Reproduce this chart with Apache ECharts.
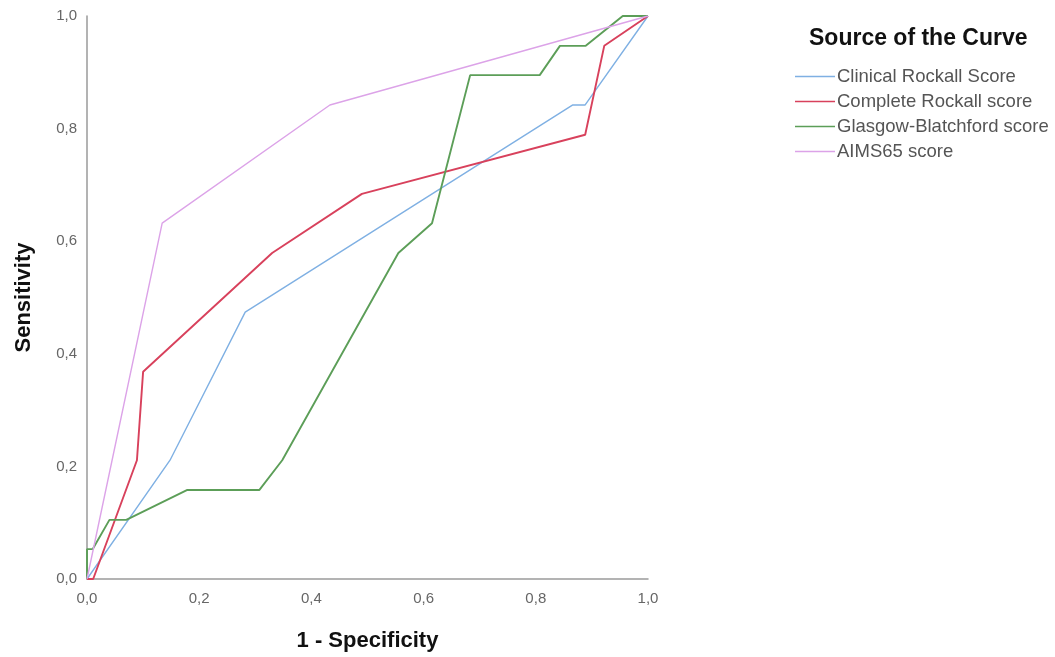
<!DOCTYPE html>
<html>
<head>
<meta charset="utf-8">
<script src="https://cdn.jsdelivr.net/npm/echarts@6/dist/echarts.min.js"></script>
<style>
  html, body { margin: 0; padding: 0; background: #fff; }
  #roc { width: 1055px; height: 657px; }
</style>
</head>
<body>
<div id="roc"></div>
<script>
// ROC curves, values (x = 1 - specificity, y = sensitivity)
var seriesNames = ['Clinical Rockall Score', 'Complete Rockall score', 'Glasgow-Blatchford score', 'AIMS65 score'];
var axisTicks = [0, 0.2, 0.4, 0.6, 0.8, 1.0];

var clinicalX = [0, 0.148, 0.282, 0.866, 0.888, 1];
var clinicalY = [0, 0.211, 0.474, 0.842, 0.842, 1];

var completeX = [0, 0.011, 0.089, 0.100, 0.330, 0.490, 0.888, 0.922, 1];
var completeY = [0, 0, 0.211, 0.368, 0.579, 0.684, 0.789, 0.947, 1];

var glasgowX = [0, 0, 0.010, 0.040, 0.070, 0.178, 0.307, 0.348, 0.555, 0.615, 0.683, 0.807, 0.843, 0.889, 0.955, 1];
var glasgowY = [0, 0.053, 0.053, 0.105, 0.105, 0.158, 0.158, 0.211, 0.579, 0.632, 0.895, 0.895, 0.947, 0.947, 1, 1];

var aimsX = [0, 0.134, 0.433, 1];
var aimsY = [0, 0.632, 0.842, 1];

var colors = ['#7fb0e3', '#d8415c', '#5c9e58', '#dca3e8'];

function zip(xs, ys) {
    return xs.map(function (x, i) { return [x, ys[i]]; });
}
function comma(v) {
    return v.toFixed(1).replace('.', ',');
}

var dom = document.getElementById('roc');
var myChart = echarts.init(dom);
var curves = [zip(clinicalX, clinicalY), zip(completeX, completeY), zip(glasgowX, glasgowY), zip(aimsX, aimsY)];

var option = {
    animation: false,
    color: colors,
    textStyle: { fontFamily: 'Liberation Sans, Arial, sans-serif' },
    grid: { left: 87, right: 407, top: 16, bottom: 78 },
    graphic: [{
        type: 'text',
        left: 809,
        top: 27,
        style: {
            text: 'Source of the Curve',
            font: 'bold 23px "Liberation Sans", Arial, sans-serif',
            fill: '#111'
        }
    }],
    legend: {
        orient: 'vertical',
        left: 790,
        top: 62,
        icon: 'rect',
        itemWidth: 40,
        itemHeight: 1.5,
        itemGap: 6,
        data: seriesNames,
        textStyle: { fontSize: 18.5, lineHeight: 19, color: '#555', padding: [0, 0, 0, -3] }
    },
    xAxis: {
        type: 'value',
        min: 0,
        max: 1,
        interval: 0.2,
        name: '1 - Specificity',
        nameLocation: 'middle',
        nameGap: 51,
        nameTextStyle: { fontSize: 22, fontWeight: 'bold', color: '#111' },
        axisLine: { lineStyle: { color: '#9a9a9a', width: 1.5 } },
        axisTick: { show: false },
        splitLine: { show: false },
        axisLabel: {
            color: '#666',
            fontSize: 15,
            margin: 12,
            formatter: function (v) { return comma(v); }
        }
    },
    yAxis: {
        type: 'value',
        min: 0,
        max: 1,
        interval: 0.2,
        name: 'Sensitivity',
        nameLocation: 'middle',
        nameGap: 52,
        nameRotate: 90,
        nameTextStyle: { fontSize: 22, fontWeight: 'bold', color: '#111' },
        axisLine: { show: true, lineStyle: { color: '#9a9a9a', width: 1.5 } },
        axisTick: { show: false },
        splitLine: { show: false },
        axisLabel: {
            color: '#666',
            fontSize: 15,
            margin: 10,
            padding: [12, 0, 0, 0],
            formatter: function (v) { return comma(v); }
        }
    },
    series: seriesNames.map(function (name, i) {
        return {
            name: name,
            type: 'line',
            showSymbol: false,
            data: curves[i],
            lineStyle: { width: i === 1 || i === 2 ? 1.9 : 1.4 }
        };
    })
};

myChart.setOption(option, true);
</script>
</body>
</html>
